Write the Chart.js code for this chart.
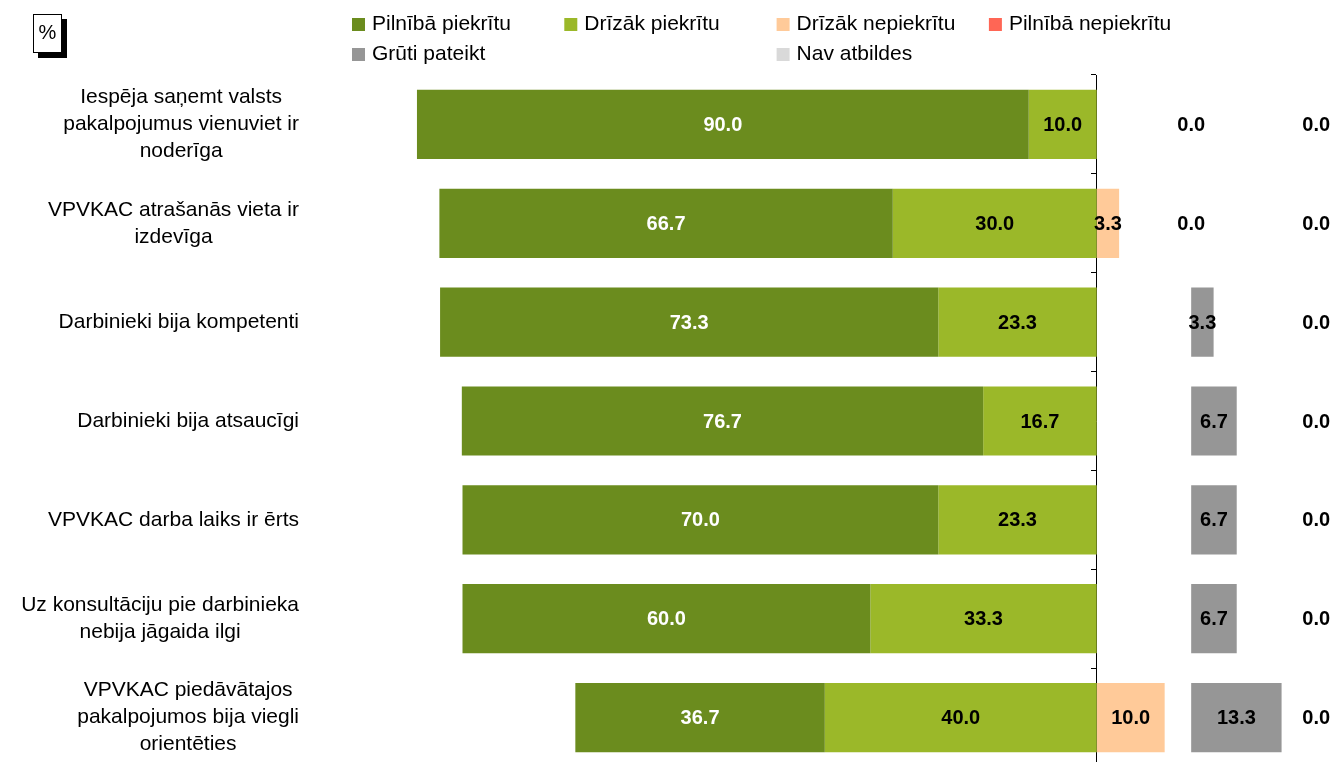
<!DOCTYPE html>
<html>
  <head>
    <title>VPVKAC</title>
    <script src="https://cdn.jsdelivr.net/npm/chart.js"></script>
    <style>
      body {
        margin: 0;
        overflow: hidden;
        background: #fff;
        font-family: "Liberation Sans", Arial, sans-serif;
      }
      .wrap {
        position: relative;
        width: 1338px;
        height: 767px;
      }
      .pct {
        position: absolute;
        left: 33px;
        top: 14px;
        width: 27px;
        height: 37px;
        border: 1px solid #000;
        background: #fff;
        box-shadow: 5px 5px 0 #000;
        font-size: 20px;
        text-align: center;
        line-height: 34px;
      }
    </style>
  </head>
  <body>
    <div class="wrap">
      <canvas id="chart" width="1338" height="767"></canvas>
      <div class="pct">%</div>
    </div>

    <script>
      const categories = [
        ["Iespēja saņemt valsts", "pakalpojumus vienuviet ir", "noderīga"],
        ["VPVKAC atrašanās vieta ir", "izdevīga"],
        ["Darbinieki bija kompetenti"],
        ["Darbinieki bija atsaucīgi"],
        ["VPVKAC darba laiks ir ērts"],
        ["Uz konsultāciju pie darbinieka", "nebija jāgaida ilgi"],
        ["VPVKAC piedāvātajos", "pakalpojumos bija viegli", "orientēties"]
      ];
      const seriesNames = ["Pilnībā piekrītu", "Drīzāk piekrītu", "Drīzāk nepiekrītu", "Pilnībā nepiekrītu", "Grūti pateikt", "Nav atbildes"];
      const fullyAgree     = [90.0, 66.7, 73.3, 76.7, 70.0, 60.0, 36.7];
      const ratherAgree    = [10.0, 30.0, 23.3, 16.7, 23.3, 33.3, 40.0];
      const ratherDisagree = [0.0, 3.3, 0.0, 0.0, 0.0, 0.0, 10.0];
      const fullyDisagree  = [0.0, 0.0, 0.0, 0.0, 0.0, 0.0, 0.0];
      const hardToSay      = [0.0, 0.0, 3.3, 6.7, 6.7, 6.7, 13.3];
      const noAnswer       = [0.0, 0.0, 0.0, 0.0, 0.0, 0.0, 0.0];

      const colors = ["#6B8C1E", "#9BB829", "#FFCA99", "#FF6655", "#969696", "#D9D9D9"];
      const FONT = "'Liberation Sans', Arial, sans-serif";
      // start of the separate columns on the value axis
      const HARD_START = 13.9;
      const NA_START = 32.3;

      const datasets = [
        { values: fullyAgree, data: fullyAgree.map((v, i) => [-(v + ratherAgree[i]), -ratherAgree[i]]), labelColor: "#fff", showZero: false },
        { values: ratherAgree, data: ratherAgree.map(v => [-v, 0]), labelColor: "#000", showZero: false },
        { values: ratherDisagree, data: ratherDisagree.map(v => [0, v]), labelColor: "#000", showZero: false },
        { values: fullyDisagree, data: fullyDisagree.map((v, i) => [ratherDisagree[i], ratherDisagree[i] + v]), labelColor: "#000", showZero: false },
        { values: hardToSay, data: hardToSay.map(v => [HARD_START, HARD_START + v]), labelColor: "#000", showZero: true },
        { values: noAnswer, data: noAnswer.map(v => [NA_START, NA_START + v]), labelColor: "#000", showZero: true }
      ].map((d, k) => ({ ...d, label: seriesNames[k], backgroundColor: colors[k] }));

      const labelsPlugin = {
        id: "barLabels",
        afterDatasetsDraw(chart) {
          const ctx = chart.ctx;
          ctx.save();
          ctx.font = "bold 20px " + FONT;
          ctx.textAlign = "center";
          ctx.textBaseline = "middle";
          chart.data.datasets.forEach((ds, d) => {
            chart.getDatasetMeta(d).data.forEach((el, i) => {
              const v = ds.values[i];
              if (v === 0 && !ds.showZero) return;
              ctx.fillStyle = ds.labelColor;
              ctx.fillText(v.toFixed(1), (el.x + el.base) / 2, el.y + 1);
            });
          });
          ctx.restore();
        }
      };

      const catPlugin = {
        id: "catLabels",
        afterDraw(chart) {
          const ctx = chart.ctx;
          const y = chart.scales.y;
          const right = 299, lh = 27;
          ctx.save();
          ctx.font = "21px " + FONT;
          ctx.fillStyle = "#000";
          ctx.textAlign = "center";
          ctx.textBaseline = "middle";
          categories.forEach((lines, i) => {
            const w = Math.max(...lines.map(l => ctx.measureText(l).width));
            const cx = right - w / 2;
            const cy = y.getPixelForValue(i);
            lines.forEach((l, k) => {
              ctx.fillText(l, cx, cy + (k - (lines.length - 1) / 2) * lh);
            });
          });

          // legend, Excel-like grid of 4 columns
          const slots = [0, 1, 2, 3, 4, 6];
          ctx.textAlign = "left";
          seriesNames.forEach((name, k) => {
            const col = slots[k] % 4, row = Math.floor(slots[k] / 4);
            const x = 352 + col * 212.3, cy = 24 + row * 30;
            ctx.fillStyle = colors[k];
            ctx.fillRect(x, cy - 6, 13, 13);
            ctx.fillStyle = "#000";
            ctx.fillText(name, x + 20, cy);
          });
          ctx.restore();
        }
      };

      new Chart(document.getElementById("chart"), {
        type: "bar",
        data: { labels: categories.map(c => c.join(" ")), datasets },
        options: {
          indexAxis: "y",
          responsive: false,
          animation: false,
          devicePixelRatio: 1,
          grouped: false,
          categoryPercentage: 1,
          barPercentage: 0.7,
          layout: { padding: { left: 315, top: 75, right: 0, bottom: 0 } },
          plugins: { legend: { display: false }, tooltip: { enabled: false } },
          scales: {
            x: { display: false, min: -115, max: 35.5 },
            y: {
              position: { x: 0 },
              grid: { offset: true, drawOnChartArea: false, drawTicks: true, tickLength: 5, color: "#000" },
              border: { display: true, color: "#000", width: 1 },
              ticks: { display: false }
            }
          }
        },
        plugins: [labelsPlugin, catPlugin]
      });
    </script>
  </body>
</html>
